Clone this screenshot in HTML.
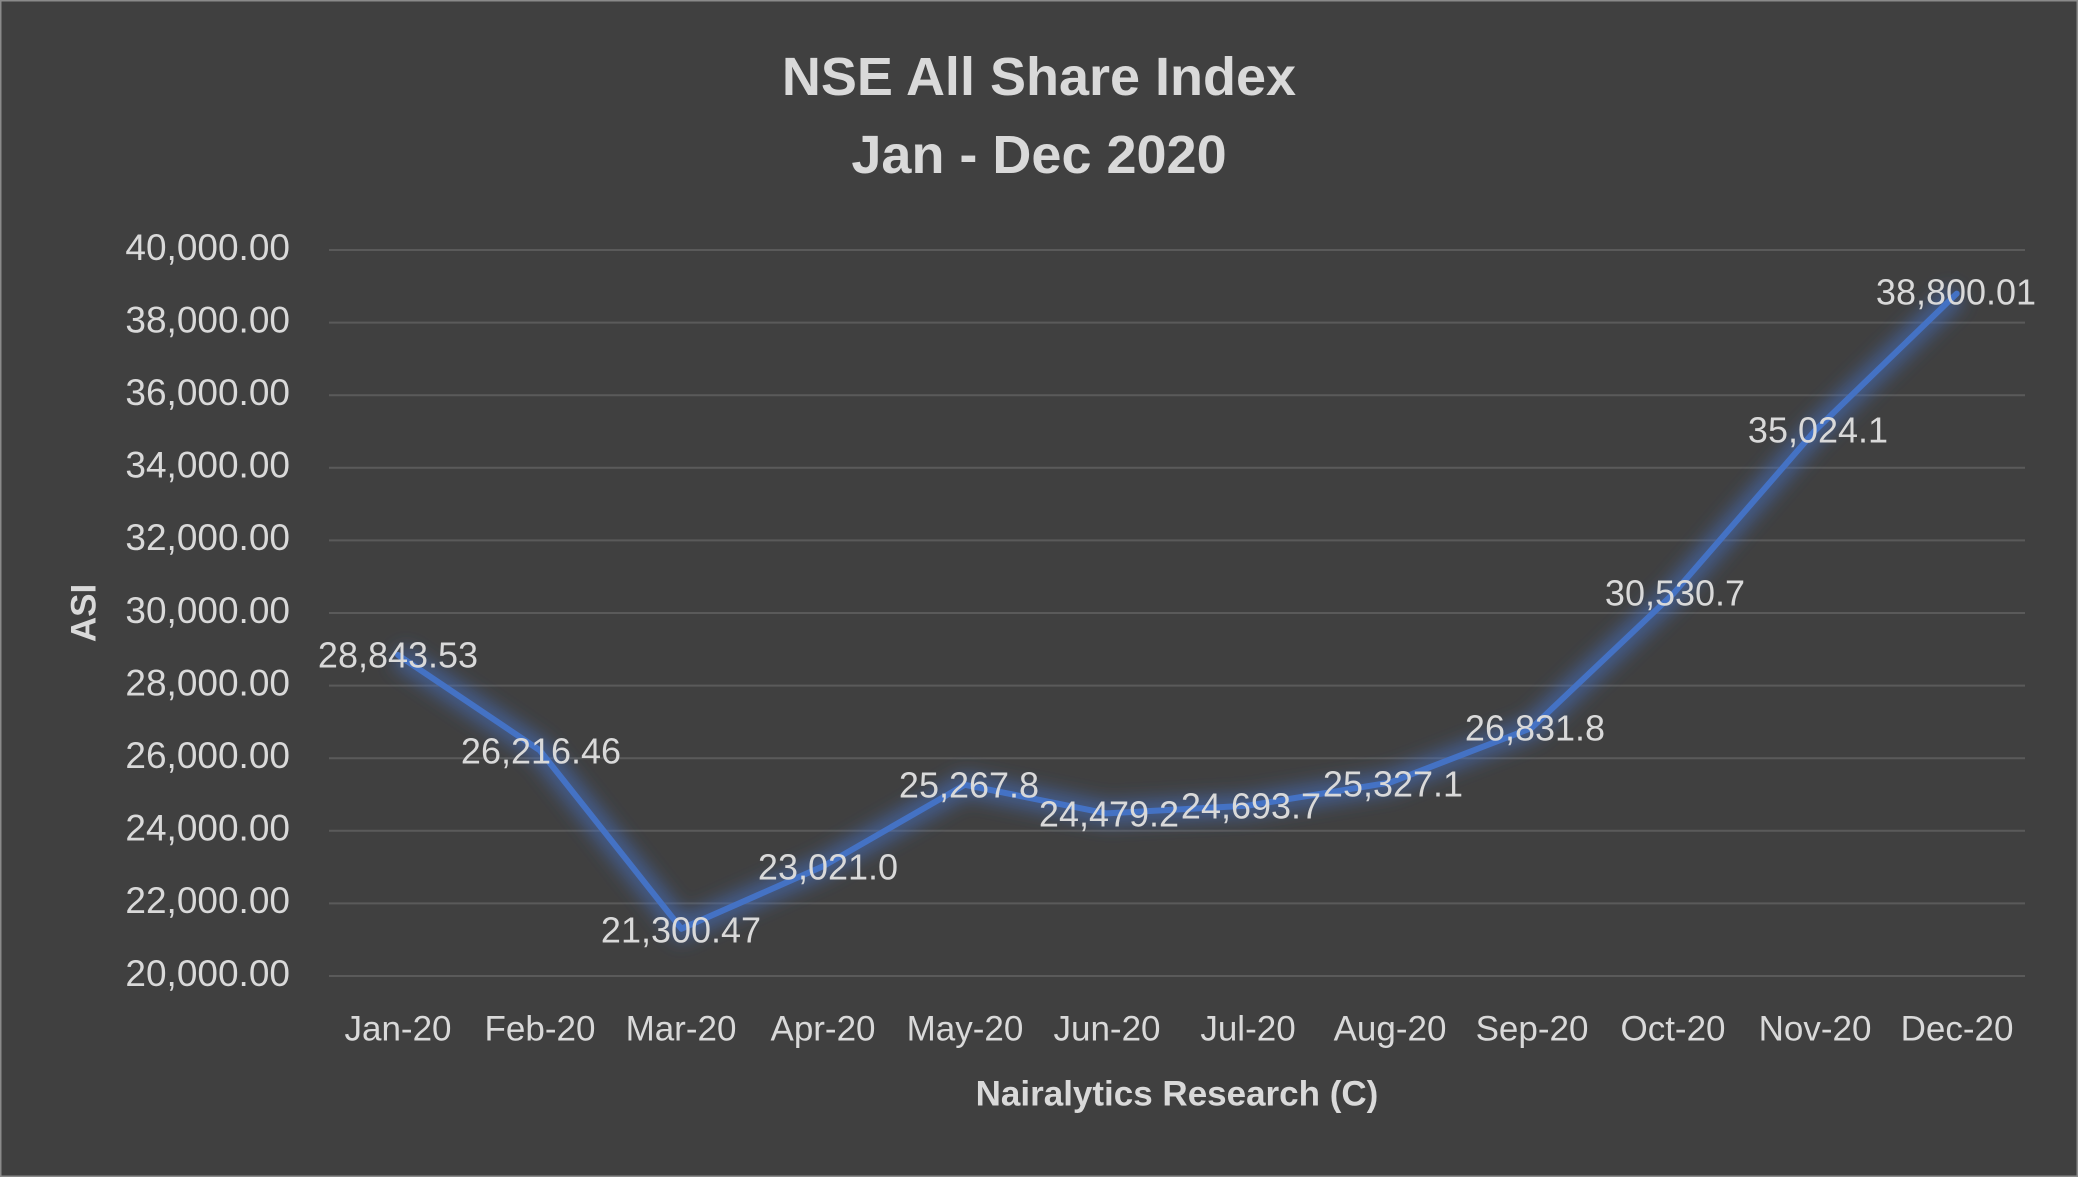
<!DOCTYPE html>
<html><head><meta charset="utf-8"><style>
html,body{margin:0;padding:0;background:#404040;}
svg{display:block;}
text{font-family:"Liberation Sans",sans-serif;fill:#d9d9d9;}
</style></head><body>
<svg width="2078" height="1177" viewBox="0 0 2078 1177">
<defs><filter id="g" x="-10%" y="-10%" width="120%" height="120%"><feGaussianBlur stdDeviation="9"/></filter></defs>
<rect x="0" y="0" width="2078" height="1177" fill="#404040" stroke="#8a8a8a" stroke-width="3"/>
<text x="1039" y="95" font-size="54" font-weight="bold" text-anchor="middle">NSE All Share Index</text>
<text x="1039" y="173" font-size="54" font-weight="bold" text-anchor="middle">Jan - Dec 2020</text>
<g stroke="#5a5a5a" stroke-width="2">
<line x1="329" x2="2025" y1="250" y2="250"/><line x1="329" x2="2025" y1="322.6" y2="322.6"/>
<line x1="329" x2="2025" y1="395.2" y2="395.2"/><line x1="329" x2="2025" y1="467.8" y2="467.8"/>
<line x1="329" x2="2025" y1="540.4" y2="540.4"/><line x1="329" x2="2025" y1="613" y2="613"/>
<line x1="329" x2="2025" y1="685.6" y2="685.6"/><line x1="329" x2="2025" y1="758.2" y2="758.2"/>
<line x1="329" x2="2025" y1="830.8" y2="830.8"/><line x1="329" x2="2025" y1="903.4" y2="903.4"/>
<line x1="329" x2="2025" y1="976" y2="976"/>
</g>
<g font-size="37" text-anchor="end" dominant-baseline="middle">
<text x="290" y="250">40,000.00</text><text x="290" y="322.6">38,000.00</text>
<text x="290" y="395.2">36,000.00</text><text x="290" y="467.8">34,000.00</text>
<text x="290" y="540.4">32,000.00</text><text x="290" y="613">30,000.00</text>
<text x="290" y="685.6">28,000.00</text><text x="290" y="758.2">26,000.00</text>
<text x="290" y="830.8">24,000.00</text><text x="290" y="903.4">22,000.00</text>
<text x="290" y="976">20,000.00</text>
</g>
<g font-size="35" text-anchor="middle" dominant-baseline="middle">
<text x="398" y="1031">Jan-20</text><text x="540" y="1031">Feb-20</text><text x="681" y="1031">Mar-20</text>
<text x="823" y="1031">Apr-20</text><text x="965" y="1031">May-20</text><text x="1107" y="1031">Jun-20</text>
<text x="1248" y="1031">Jul-20</text><text x="1390" y="1031">Aug-20</text><text x="1532" y="1031">Sep-20</text>
<text x="1673" y="1031">Oct-20</text><text x="1815" y="1031">Nov-20</text><text x="1957" y="1031">Dec-20</text>
</g>
<text x="1177" y="1096" font-size="35" font-weight="bold" text-anchor="middle" dominant-baseline="middle">Nairalytics Research (C)</text>
<text transform="translate(86,613) rotate(-90)" font-size="35" font-weight="bold" text-anchor="middle" dominant-baseline="middle">ASI</text>
<polyline fill="none" stroke="#4472c4" stroke-width="22" stroke-opacity="0.6" filter="url(#g)" points="398,655 539.7,750.3 681.4,928.8 823.1,866.3 964.8,784.8 1106.5,813.4 1248.2,805.6 1389.9,782.6 1531.6,728 1673.3,593.7 1815,430.6 1956.7,293.6"/>
<polyline fill="none" stroke="#4472c4" stroke-width="6" stroke-linejoin="round" stroke-linecap="round" points="398,655 539.7,750.3 681.4,928.8 823.1,866.3 964.8,784.8 1106.5,813.4 1248.2,805.6 1389.9,782.6 1531.6,728 1673.3,593.7 1815,430.6 1956.7,293.6"/>
<g font-size="36" text-anchor="middle" dominant-baseline="middle">
<text x="398" y="658">28,843.53</text><text x="541" y="754">26,216.46</text>
<text x="681" y="933">21,300.47</text><text x="828" y="870">23,021.0</text>
<text x="969" y="788">25,267.8</text><text x="1109" y="817">24,479.2</text>
<text x="1251" y="809">24,693.7</text><text x="1393" y="787">25,327.1</text>
<text x="1535" y="731">26,831.8</text><text x="1675" y="596">30,530.7</text>
<text x="1818" y="433">35,024.1</text><text x="1956" y="295">38,800.01</text>
</g>
</svg>
</body></html>
